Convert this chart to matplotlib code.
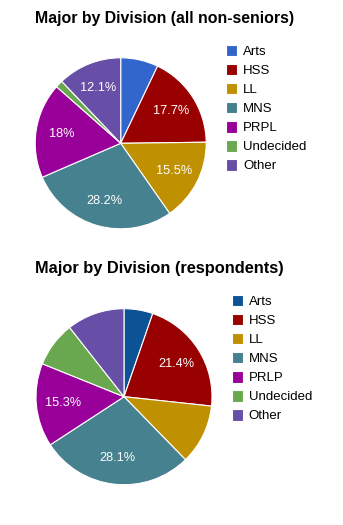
import matplotlib
matplotlib.use("Agg")
import matplotlib.pyplot as plt

plt.rcParams['font.family'] = ['Liberation Sans', 'DejaVu Sans']

# division shares, percent
divisions_all = ["Arts", "HSS", "LL", "MNS", "PRPL", "Undecided", "Other"]
shares_all = [7.1, 17.7, 15.5, 28.2, 18.0, 1.4, 12.1]
colors_all = ["#3366cc", "#990000", "#bf9000", "#45818e", "#990099", "#6aa84f", "#674ea7"]

divisions_resp = ["Arts", "HSS", "LL", "MNS", "PRLP", "Undecided", "Other"]
shares_resp = [5.3, 21.4, 11.0, 28.1, 15.3, 8.3, 10.6]
colors_resp = ["#0b5394", "#990000", "#bf9000", "#45818e", "#990099", "#6aa84f", "#674ea7"]

W, H = 343, 525
fig = plt.figure(figsize=(W / 100, H / 100), dpi=100)


def pct_label(p):
    # only the bigger slices get a label
    return f"{p:.1f}%".replace(".0%", "%") if p >= 12 else ""


def draw_pie(cx, cy, r, title, title_size, title_y, labels, values, colors,
             legend_x, legend_y):
    ax = fig.add_axes([(cx - r) / W, 1 - (cy + r) / H, 2 * r / W, 2 * r / H])
    wedges, texts, autotexts = ax.pie(
        values, colors=colors, startangle=90, counterclock=False, radius=1,
        autopct=pct_label, pctdistance=0.7,
        wedgeprops=dict(edgecolor="white", linewidth=0.8),
        textprops=dict(color="white", fontsize=9.2),
    )
    ax.set_xlim(-1, 1)
    ax.set_ylim(-1, 1)
    ax.set_aspect("equal")
    fig.text(35 / W, 1 - title_y / H, title, fontsize=title_size, fontweight="bold",
             ha="left", va="center")
    fig.legend(wedges, labels, loc="upper left",
               bbox_to_anchor=(legend_x / W, 1 - legend_y / H),
               frameon=False, fontsize=9.5, handlelength=0.85, handleheight=0.95,
               handletextpad=0.45, labelspacing=0.44, borderpad=0, borderaxespad=0)


draw_pie(120.7, 143.3, 85.5, "Major by Division (all non-seniors)", 11.4, 19,
         divisions_all, shares_all, colors_all, 226, 45)
draw_pie(124, 396.7, 88, "Major by Division (respondents)", 11.8, 268,
         divisions_resp, shares_resp, colors_resp, 231.5, 295)

fig.savefig("out.png", dpi=100)
